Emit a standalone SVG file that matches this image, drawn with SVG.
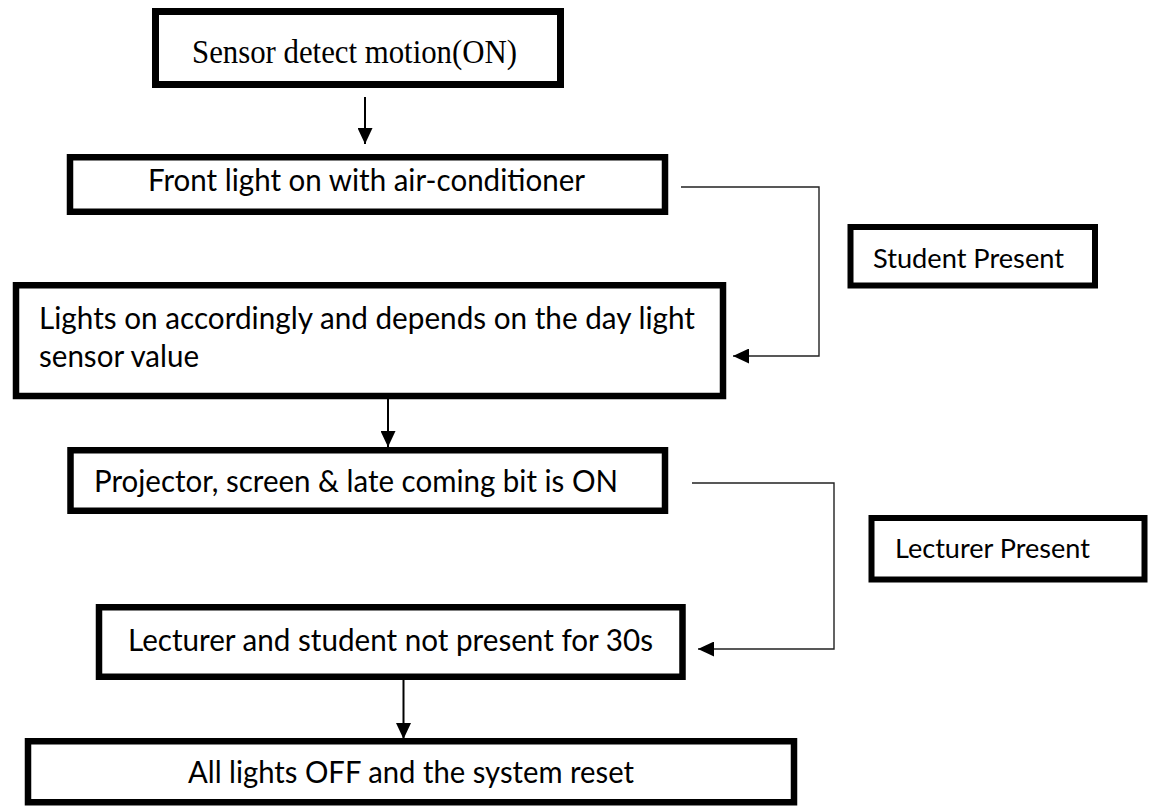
<svg xmlns="http://www.w3.org/2000/svg" width="1154" height="806" viewBox="0 0 1154 806">
  <style>
    .box { fill: #ffffff; stroke: #000000; stroke-width: 6.5; }
    .t { font-family: Lato, "Liberation Sans", sans-serif; font-size: 30px; fill: #000000; }
    .ts { font-family: Lato, "Liberation Sans", sans-serif; font-size: 27.5px; fill: #000000; }
    .tr { font-family: "Liberation Serif", "Times New Roman", serif; font-size: 33px; fill: #000000; }
    .arr { fill: none; stroke: #000000; stroke-width: 2; }
    .con { fill: none; stroke: #222222; stroke-width: 1.4; }
  </style>
  <defs>
    <marker id="ah" viewBox="0 0 16 15" refX="16" refY="7.5" markerWidth="16" markerHeight="15" markerUnits="userSpaceOnUse" orient="auto">
      <path d="M0,0 L16,7.5 L0,15 Z" fill="#000000"/>
    </marker>
  </defs>

  <g id="connectors">
    <path class="arr" d="M365,97 V144" marker-end="url(#ah)"/>
    <path class="arr" d="M388,399 V447" marker-end="url(#ah)"/>
    <path class="arr" d="M403.5,680 V739" marker-end="url(#ah)"/>
    <path class="con" d="M681,187 H819 V356 H733" marker-end="url(#ah)"/>
    <path class="con" d="M692,483 H834 V649 H698" marker-end="url(#ah)"/>
  </g>

  <g id="node-sensor">
    <rect class="box" x="155.5" y="11.5" width="405" height="73" style="stroke-width:7"/>
    <text class="tr" x="192" y="63" textLength="325" lengthAdjust="spacingAndGlyphs">Sensor detect motion(ON)</text>
  </g>

  <g id="node-front-light">
    <rect class="box" x="70" y="157.25" width="595" height="54.5"/>
    <text class="t" x="148" y="191" textLength="437" lengthAdjust="spacingAndGlyphs">Front light on with air-conditioner</text>
  </g>

  <g id="node-student-present">
    <rect class="box" x="850.5" y="227" width="244.5" height="58.5" style="stroke-width:6"/>
    <text class="ts" x="873" y="268" textLength="191" lengthAdjust="spacingAndGlyphs">Student Present</text>
  </g>

  <g id="node-lights-on">
    <rect class="box" x="16" y="285.25" width="707" height="110.75"/>
    <text class="t" x="39" y="329" textLength="656" lengthAdjust="spacingAndGlyphs">Lights on accordingly and depends on the day light</text>
    <text class="t" x="39" y="367" textLength="160" lengthAdjust="spacingAndGlyphs">sensor value</text>
  </g>

  <g id="node-projector">
    <rect class="box" x="70.5" y="450.25" width="594.5" height="60.5"/>
    <text class="t" x="94" y="492" textLength="524" lengthAdjust="spacingAndGlyphs">Projector, screen &amp; late coming bit is ON</text>
  </g>

  <g id="node-lecturer-present">
    <rect class="box" x="871.5" y="518" width="273" height="61.5" style="stroke-width:6"/>
    <text class="ts" x="895" y="558" textLength="195" lengthAdjust="spacingAndGlyphs">Lecturer Present</text>
  </g>

  <g id="node-not-present">
    <rect class="box" x="99" y="607.25" width="583.5" height="69.5"/>
    <text class="t" x="128" y="651" textLength="525" lengthAdjust="spacingAndGlyphs">Lecturer and student not present for 30s</text>
  </g>

  <g id="node-reset">
    <rect class="box" x="28" y="741.25" width="766" height="61"/>
    <text class="t" x="188" y="783" textLength="446" lengthAdjust="spacingAndGlyphs">All lights OFF and the system reset</text>
  </g>
</svg>
